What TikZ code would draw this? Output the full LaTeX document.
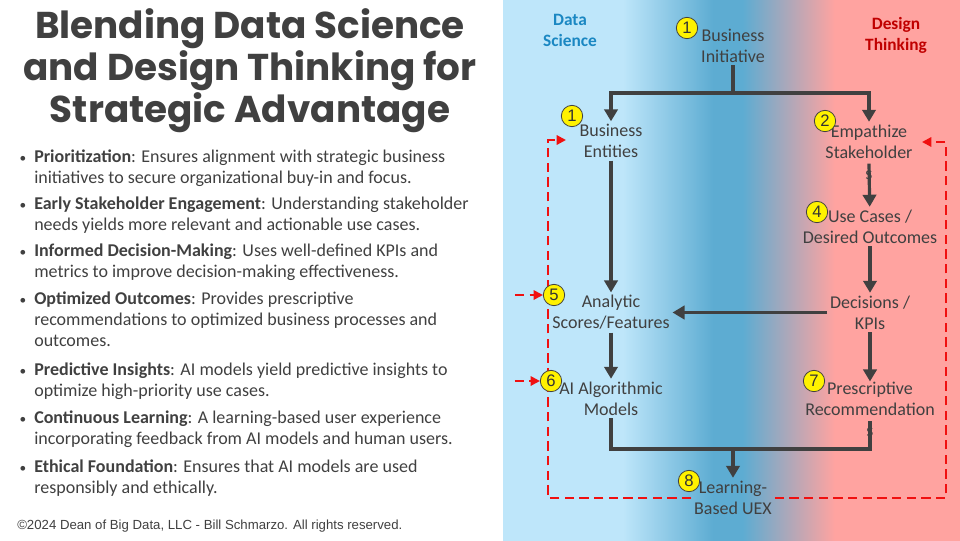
\documentclass[tikz,border=0pt]{standalone}
\usepackage{fontspec}
\setmainfont{Carlito}
\newfontfamily\titlefont{Poppins}
\newfontfamily\notefont{Liberation Sans}
\usetikzlibrary{arrows.meta, positioning}
\definecolor{ctext}{HTML}{404040}
\definecolor{cdslight}{HTML}{BEE6FA}
\definecolor{cdsmid}{HTML}{5DACD2}
\definecolor{cdtpink}{HTML}{FFA3A0}
\definecolor{cdsblue}{HTML}{1A87C2}
\definecolor{cdtred}{HTML}{C00000}
\definecolor{cloop}{HTML}{F01010}
\pgfdeclarehorizontalshading{dsdt}{100bp}{color(0bp)=(cdslight); color(38.1bp)=(cdslight);
  color(48bp)=(cdsmid); color(51.2bp)=(cdsmid); color(61.3bp)=(cdtpink); color(100bp)=(cdtpink)}
\tikzset{
  every picture/.style={font=\fontsize{13.5}{15.75}\selectfont, text=ctext},
  step box/.style={align=center, inner sep=2pt, text=ctext},
  badge/.style={circle, fill=yellow, draw=ctext, line width=0.6pt, inner sep=0pt,
    minimum size=16pt, font=\notefont\fontsize{12.5}{12.5}\selectfont, text=black!80},
  flow/.style={-{Triangle[length=9pt, width=10pt]}, draw=ctext, line width=2.4pt},
  link/.style={draw=ctext, line width=2.4pt},
  redflow/.style={-{Triangle[length=7pt, width=7pt]}, draw=cloop, line width=1.6pt,
    dash pattern=on 7pt off 4pt},
  heading/.style={align=center, font=\bfseries\fontsize{13}{15.75}\selectfont},
  bul/.style={anchor=north west, align=left, inner sep=0pt,
    font=\fontsize{13.5}{15.75}\selectfont},
}

\begin{document}
\begin{tikzpicture}[x=0.75pt, y=-0.75pt]
  \useasboundingbox (0,0) rectangle (960,540);
  % ---------- background band ----------
  \shade[shading=dsdt] (503,-5) rectangle (960,545);
  % ---------- left: title and bullets ----------
  \node[align=center, font=\titlefont\bfseries\fontsize{28}{31.5}\selectfont] (ttl) at (250,71)
    {Blending Data Science\\and Design Thinking for\\Strategic Advantage};
  \foreach \y/\txt [count=\i] in {
    150/{\textbf{Prioritization}: Ensures alignment with strategic business\\initiatives to secure organizational buy-in and focus.},
    197/{\textbf{Early Stakeholder Engagement}: Understanding stakeholder\\needs yields more relevant and actionable use cases.},
    244/{\textbf{Informed Decision-Making}: Uses well-defined KPIs and\\metrics to improve decision-making effectiveness.},
    292/{\textbf{Optimized Outcomes}: Provides prescriptive\\recommendations to optimized business processes and\\outcomes.},
    363/{\textbf{Predictive Insights}: AI models yield predictive insights to\\optimize high-priority use cases.},
    411/{\textbf{Continuous Learning}: A learning-based user experience\\incorporating feedback from AI models and human users.},
    460/{\textbf{Ethical Foundation}: Ensures that AI models are used\\responsibly and ethically.}}
    \node[bul] (bul\i) at (34,\y) {\llap{\raisebox{0.5pt}{\fontsize{10}{10}\selectfont\textbullet}\kern6pt}\txt};
  \node[anchor=west, inner sep=0pt, font=\notefont\fontsize{9.9}{11}\selectfont] (copy) at (17,526)
    {©2024 Dean of Big Data, LLC - Bill Schmarzo. All rights reserved.};
  % ---------- right: flow ----------
  \node[heading, text=cdsblue] (dshead) at (570,30.5) {Data\\Science};
  \node[heading, text=cdtred] (dthead) at (896,35.5) {Design\\Thinking};
  \node[step box] (init) at (733,45.5) {Business\\Initiative};
  \node[step box] (ent) at (611,141) {Business\\Entities};
  \node[step box] (emp) at (869,152) {Empathize\\Stakeholder\\s};
  \node[step box] (uc) at (870,226.5) {Use Cases /\\Desired Outcomes};
  \node[step box] (ask) at (611,312.5) {Analytic\\Scores/Features};
  \node[step box] (dec) at (870,312.5) {Decisions /\\KPIs};
  \node[step box] (aim) at (611,398.5) {AI Algorithmic\\Models};
  \node[step box] (presc) at (870,409) {Prescriptive\\Recommendation\\s};
  \node[step box] (uex) at (733,497.5) {Learning-\\Based UEX};
  % connectors
  \coordinate (split) at (733,93);
  \coordinate (merge) at (733,449);
  \draw[link] (init) -- (split);
  \draw[flow] (split) -| (ent);
  \draw[flow] (split) -| (emp);
  \draw[flow] ([yshift=14pt]emp.south) -- (uc);
  \draw[flow] (ent) -- (ask);
  \draw[flow] (uc) -- (dec);
  \draw[flow] (dec) -- (ask);
  \draw[flow] (ask) -- (aim);
  \draw[flow] (dec) -- ([yshift=-2pt]presc.north);
  \draw[link] (aim) |- (merge) -| ([yshift=14pt]presc.south);
  \draw[flow] (merge) -- (uex);
  % feedback loop
  \coordinate (fbl) at (548,498);
  \coordinate (fbr) at (946,498);
  \coordinate (fdl) at (566,140);
  \coordinate (fdr) at (922,142);
  \draw[redflow] (uex.west |- fbl) -| (fdl -| fbl) -- (fdl);
  \draw[redflow] (uex.east |- fbr) -| (fdr -| fbr) -- (fdr);
  % numbered badges
  \foreach \n/\x/\y [count=\i] in {1/687/28, 1/572/116, 2/825/121, 4/817/212,
      5/554/295, 6/551/381, 7/814/381, 8/689/481}
    \node[badge] (num\i) at (\x,\y) {\n};
  \draw[redflow] ([xshift=-21pt]num5.west) -- (num5.west);
  \draw[redflow] ([xshift=-19pt]num6.west) -- (num6.west);
\end{tikzpicture}
\end{document}
